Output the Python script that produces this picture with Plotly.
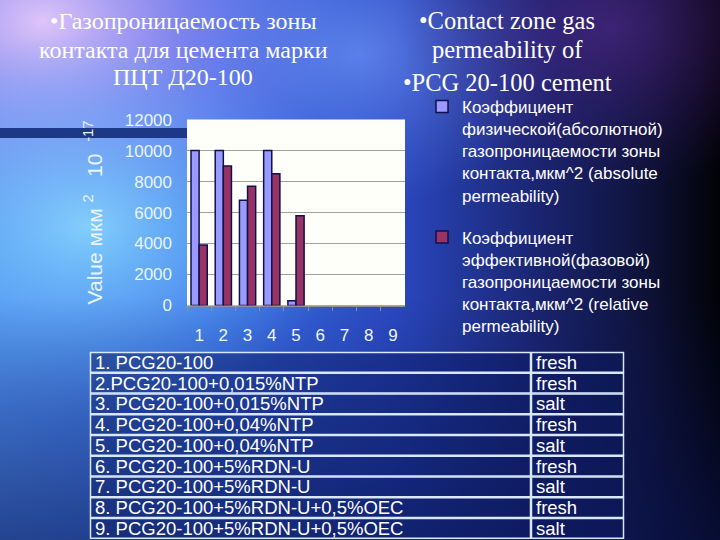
import base64
import plotly.graph_objects as go

# ---------------- data ----------------
categories = ["1", "2", "3", "4", "5", "6", "7", "8", "9"]
absolute_perm = [10000, 10000, 6800, 10000, 300, None, None, None, None]
relative_perm = [3900, 9000, 7700, 8500, 5800, None, None, None, None]
y_ticks = [0, 2000, 4000, 6000, 8000, 10000, 12000]

name_abs = ("Коэффициент<br>физической(абсолютной)<br>газопроницаемости зоны<br>"
            "контакта,мкм^2 (absolute<br>permeability)")
name_rel = ("Коэффициент<br>эффективной(фазовой)<br>газопроницаемости зоны<br>"
            "контакта,мкм^2 (relative<br>permeability)")

table_samples = [
    "1. PCG20-100",
    "2.PCG20-100+0,015%NTP",
    "3. PCG20-100+0,015%NTP",
    "4. PCG20-100+0,04%NTP",
    "5. PCG20-100+0,04%NTP",
    "6. PCG20-100+5%RDN-U",
    "7. PCG20-100+5%RDN-U",
    "8. PCG20-100+5%RDN-U+0,5%OEC",
    "9. PCG20-100+5%RDN-U+0,5%OEC",
]
table_water = ["fresh", "fresh", "salt", "fresh", "salt", "fresh", "salt", "fresh", "salt"]

title_ru_lines = ["•Газопроницаемость зоны", "контакта для цемента марки", "ПЦТ Д20-100"]
title_en_lines = ["•Contact zone gas", "permeability of", "•PCG 20-100 cement"]

# ---------------- background (SVG gradient) ----------------
W, H = 720, 540
svg = f"""<svg xmlns='http://www.w3.org/2000/svg' width='{W}' height='{H}' viewBox='0 0 {W} {H}' preserveAspectRatio='none'>
<defs>
<linearGradient id='base' x1='0' y1='0' x2='1' y2='0'>
<stop offset='0' stop-color='#4c8cee'/>
<stop offset='0.3' stop-color='#3a70e6'/>
<stop offset='0.55' stop-color='#2a48c0'/>
<stop offset='0.75' stop-color='#1a2470'/>
<stop offset='0.9' stop-color='#0e1238'/>
<stop offset='1' stop-color='#020206'/>
</linearGradient>
<radialGradient id='lav' cx='0.06' cy='0.04' r='0.42'>
<stop offset='0' stop-color='#e6c8fa' stop-opacity='0.95'/>
<stop offset='0.5' stop-color='#b48cf0' stop-opacity='0.5'/>
<stop offset='1' stop-color='#9070e0' stop-opacity='0'/>
</radialGradient>
<radialGradient id='cyan' cx='0.12' cy='0.42' r='0.36'>
<stop offset='0' stop-color='#8cdcff' stop-opacity='0.85'/>
<stop offset='1' stop-color='#60b0ff' stop-opacity='0'/>
</radialGradient>
<radialGradient id='mid' cx='0.5' cy='0.1' r='0.28'>
<stop offset='0' stop-color='#7aa0ff' stop-opacity='0.6'/>
<stop offset='1' stop-color='#6080f0' stop-opacity='0'/>
</radialGradient>
<radialGradient id='pur' cx='0.85' cy='0.05' r='0.3'>
<stop offset='0' stop-color='#5a2a90' stop-opacity='0.6'/>
<stop offset='1' stop-color='#3a1a70' stop-opacity='0'/>
</radialGradient>
<linearGradient id='bot' x1='0' y1='0' x2='0' y2='1'>
<stop offset='0.55' stop-color='#0a1450' stop-opacity='0'/>
<stop offset='1' stop-color='#0a1450' stop-opacity='0.6'/>
</linearGradient>
</defs>
<rect width='{W}' height='{H}' fill='url(#base)'/>
<rect width='{W}' height='{H}' fill='url(#lav)'/>
<rect width='{W}' height='{H}' fill='url(#cyan)'/>
<rect width='{W}' height='{H}' fill='url(#mid)'/>
<rect width='{W}' height='{H}' fill='url(#pur)'/>
<rect width='{W}' height='{H}' fill='url(#bot)'/>
</svg>"""
bg_src = "data:image/svg+xml;base64," + base64.b64encode(svg.encode("utf-8")).decode("ascii")


def px_x(v):
    return v / W


def px_y(v):
    return 1 - v / H


# plot area in pixels
PL, PR, PT, PB = 187, 405, 119.6, 305.5

fig = go.Figure()

fig.add_trace(go.Bar(
    x=categories, y=absolute_perm, name=name_abs, legendgroup="a",
    marker=dict(color="#9999ff", line=dict(color="#10104a", width=1.5)),
))
fig.add_trace(go.Bar(
    x=categories, y=relative_perm, name=name_rel, legendgroup="b",
    marker=dict(color="#993366", line=dict(color="#10104a", width=1.5)),
))

shapes = [
    # white plot area
    dict(type="rect", xref="paper", yref="paper",
         x0=px_x(PL), x1=px_x(PR), y0=px_y(PB), y1=px_y(PT),
         fillcolor="#fffffa", line=dict(width=0), layer="below"),
    # dark band at left
    dict(type="rect", xref="paper", yref="paper",
         x0=0, x1=px_x(PL), y0=px_y(138), y1=px_y(128),
         fillcolor="#1e3888", line=dict(width=0), layer="below"),
]
annotations = []

# ---------------- table (drawn from the two lists) ----------------
T_TOP, ROW_H = 352, 20.75
C0, C1, C2 = 90, 531, 624
tfont = dict(family="Arial, Liberation Sans", size=18.5, color="white")
for i, (s, w) in enumerate(zip(table_samples, table_water)):
    top = T_TOP + i * ROW_H
    bot = top + ROW_H
    for xa, xb in ((C0, C1), (C1, C2)):
        shapes.append(dict(type="rect", xref="paper", yref="paper",
                           x0=px_x(xa + 0.5), x1=px_x(xb - 0.5),
                           y0=px_y(bot - 0.5), y1=px_y(top + 0.5),
                           fillcolor="rgba(12,26,100,0.45)",
                           line=dict(color="#d8e8fa", width=1.5), layer="below"))
    mid = (top + bot) / 2
    annotations.append(dict(text=s, xref="paper", yref="paper", x=px_x(C0 + 3), y=px_y(mid),
                            xanchor="left", yanchor="middle", showarrow=False, font=tfont))
    annotations.append(dict(text=w, xref="paper", yref="paper", x=px_x(C1 + 3), y=px_y(mid),
                            xanchor="left", yanchor="middle", showarrow=False, font=tfont))

# ---------------- titles ----------------
serif = "Liberation Serif, Times New Roman, serif"
for txt, yy in zip(title_ru_lines, [21, 50, 77]):
    annotations.append(dict(text=txt, xref="paper", yref="paper", x=px_x(183), y=px_y(yy),
                            xanchor="center", yanchor="middle", showarrow=False,
                            font=dict(family=serif, size=24, color="white")))
for txt, yy in zip(title_en_lines, [21, 50, 82]):
    annotations.append(dict(text=txt, xref="paper", yref="paper", x=px_x(507), y=px_y(yy),
                            xanchor="center", yanchor="middle", showarrow=False,
                            font=dict(family=serif, size=24.5, color="white")))

fig.update_layout(
    width=W, height=H,
    autosize=False,
    margin=dict(l=0, r=0, t=0, b=0, pad=0),
    paper_bgcolor="#1a2a80",
    plot_bgcolor="#fffffa",
    barmode="group",
    bargap=0.33,
    bargroupgap=0,
    font=dict(family="Arial, Liberation Sans", color="white"),
    images=[dict(source=bg_src, xref="paper", yref="paper", x=0, y=1,
                 sizex=1, sizey=1, sizing="stretch", layer="below")],
    xaxis=dict(
        domain=[px_x(PL), px_x(PR)],
        type="category",
        automargin=False,
        showline=True, linecolor="#909090", linewidth=1,
        ticks="outside", ticklen=4, tickcolor="#909090", tickson="boundaries",
        tickfont=dict(size=17, color="#f0f8ff"),
        ticklabelstandoff=14,
        showgrid=False,
    ),
    yaxis=dict(
        domain=[px_y(PB), px_y(PT)],
        range=[0, 12000],
        automargin=False,
        tickvals=y_ticks,
        tickformat="d",
        showgrid=True, gridcolor="#a0a0a0", gridwidth=1,
        zeroline=False,
        ticks="", ticklabelstandoff=14,
        tickfont=dict(size=17, color="#e8f4ff"),
        title=dict(text="Value мкм\u00a0<sup>2</sup>\u00a0\u00a0\u00a010\u00a0\u00a0<sup>-17</sup>",
                   font=dict(size=21, color="#e8f4ff"), standoff=16),
    ),
    legend=dict(
        x=px_x(422), y=px_y(89), xanchor="left", yanchor="top",
        bgcolor="rgba(0,0,0,0)",
        font=dict(family="Arial, Liberation Sans", size=17, color="white"),
        tracegroupgap=17, valign="top",
    ),
    shapes=shapes,
    annotations=annotations,
)

fig.write_html("out.html", post_script="document.body.style.margin='0';",
               config={"displayModeBar": False})
